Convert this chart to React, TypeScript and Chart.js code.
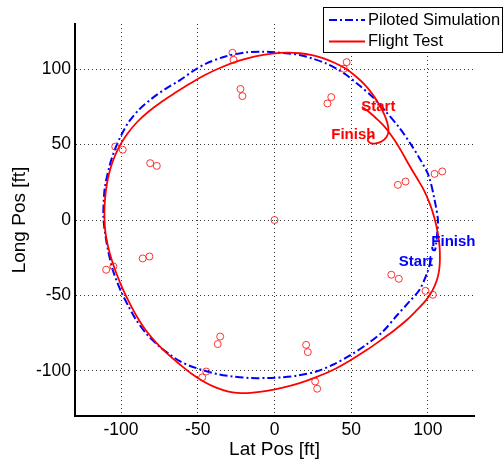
import React, { useEffect, useRef } from 'react';
import { Chart, registerables } from 'chart.js';

Chart.register(...registerables);

// Piloted Simulation path (Lat Pos, Long Pos) [ft]
const simX = [102, 99.7, 94.5, 88, 80, 70.6, 60, 48.9, 38, 27.2, 15, 5, -5, -16.3, -27.2, -36, -47, -55, -62, -68.5, -75, -83, -90.2, -95, -99.5, -103, -105.4, -108.5, -110.5, -111.5, -111.3, -110.5, -107.6, -104.3, -100, -95, -88, -80, -71, -62, -52, -44, -32, -18.4, -8, 1, 9, 16.3, 25, 33.7, 40, 46.7, 55, 64, 72, 81.5, 89, 95, 100.4, 104.3, 106.5, 106, 105.3, 104.5, 103, 102.8];
const simY = [-26, -34.4, -46.3, -54, -63, -74, -82.5, -90, -96, -100.5, -103.2, -104.3, -104.8, -104.8, -103.8, -102.5, -99.5, -96.8, -93.5, -89, -83.9, -76, -66.2, -57.5, -48.5, -40, -33, -20, -8, 2, 12, 22, 35.5, 46, 56, 65, 73.5, 80.5, 87, 92.5, 99.5, 104, 108.5, 111.2, 111.6, 111.2, 110.5, 109.5, 107, 103.8, 100.5, 96.3, 89.5, 81.5, 72.5, 61, 50, 40, 29.5, 13.4, 0, -9, -16, -20, -19.5, -17];

// Flight Test path (Lat Pos, Long Pos) [ft]
const flightX = [57, 62, 66.5, 70.5, 74, 78.5, 83, 88, 93, 97.5, 101.3, 104.3, 106.3, 107.5, 107.8, 107.4, 105.8, 102.8, 98.5, 92.5, 86, 78.5, 70.5, 60, 49, 38, 27.2, 16.3, 5.4, -5, -14, -22, -30, -38, -46, -54, -62, -69.5, -77, -84, -90, -95, -99.2, -103, -106.2, -108.6, -110.2, -110.8, -110.7, -109.8, -108, -105.2, -101.2, -96, -89.5, -82, -73.5, -64.5, -55, -45, -34.5, -23.5, -12.5, -1.5, 8, 16.5, 24.5, 32, 39, 46.5, 53.3, 59.5, 64.5, 68.5, 71.5, 73.5, 74.3, 73, 70, 66, 62.5, 60.8, 62, 64.5];
const flightY = [75, 71.3, 67.2, 63.2, 59, 52.5, 45, 36, 27.5, 19.5, 10.5, 1, -8, -17, -25, -32.5, -40, -47, -53.5, -60, -66.5, -72.8, -78.8, -86.3, -93.3, -99.5, -104.2, -108.2, -111.2, -113.3, -114.5, -114.8, -113.8, -111.2, -107.3, -102, -95.5, -89, -81.5, -73, -63.5, -54, -45, -35.5, -26, -17, -8, 1, 10, 20, 30, 39.5, 48.5, 57, 65, 72, 78.5, 84.5, 90.5, 96.3, 101.3, 105.5, 108.6, 110.4, 111, 110.6, 109.3, 107.2, 104.3, 100.3, 95, 89, 82.5, 76, 70, 64.5, 59, 55, 52.2, 50.8, 51, 53, 55, 55.8];

// Red circle markers
const markerX = [0, -27.4, -26.7, -22.2, -20.9, 47, 45.2, 37, 34.5, 104.3, 109.3, 80.4, 85.4, 76.1, 81, 98.4, 103.2, 20.6, 21.7, 26.5, 27.8, -44.5, -47.1, -35.4, -37, -103.8, -98.9, -81, -76.7, -85.9, -81.5, -109.7, -105];
const markerY = [0, 110.9, 106.2, 86.9, 82.2, 104.7, 100.3, 81.5, 77.3, 30.6, 32.2, 23.3, 25.5, -36.3, -39, -47, -49.6, -82.8, -87.6, -107.1, -111.9, -100.5, -104.4, -77.3, -82.3, 48.7, 46.6, 37.7, 35.9, -25.5, -24.2, -33, -30.8];

const tickValues = [-100, -50, 0, 50, 100];
const axisMin = -130;
const axisMax = 130;

const seriesLabels = ['Piloted Simulation', 'Flight Test'];
const xTitle = 'Lat Pos [ft]';
const yTitle = 'Long Pos [ft]';

const annotationTexts = ['Start', 'Finish', 'Start', 'Finish'];
const annotationX = [56.5, 37, 81, 102.2];
const annotationY = [75.1, 56.5, -27.5, -14.3];
const annotationSeries = [1, 1, 0, 0];

const FONT = '"Liberation Sans", Arial, Helvetica, sans-serif';
const BLUE = '#0000ff';
const RED = '#ff0000';
const BLUE_DASH = [8, 3, 2, 3];
const seriesColors = [BLUE, RED];
const seriesDashes = [BLUE_DASH, []];

const annotationPlugin = {
  id: 'annotationsText',
  afterDatasetsDraw(chart: any) {
    const ctx = chart.ctx;
    const xs = chart.scales.x;
    const ys = chart.scales.y;
    ctx.save();
    ctx.font = `bold 15px ${FONT}`;
    ctx.textAlign = 'left';
    ctx.textBaseline = 'middle';
    annotationTexts.forEach((t, i) => {
      ctx.fillStyle = seriesColors[annotationSeries[i]];
      ctx.fillText(t, xs.getPixelForValue(annotationX[i]), ys.getPixelForValue(annotationY[i]));
    });
    ctx.restore();
  },
};

const legendPlugin = {
  id: 'boxLegend',
  afterDraw(chart: any) {
    const ctx = chart.ctx;
    const right = chart.width - 1;
    const left = right - 179;
    const top = 7;
    const h = 45;
    ctx.save();
    ctx.fillStyle = '#ffffff';
    ctx.fillRect(left, top, right - left, h);
    ctx.strokeStyle = '#000000';
    ctx.lineWidth = 1;
    ctx.setLineDash([]);
    ctx.strokeRect(left + 0.5, top + 0.5, right - left, h);
    const rows = [top + 13, top + 34.5];
    seriesLabels.forEach((lab, i) => {
      const y = rows[i];
      ctx.beginPath();
      ctx.strokeStyle = seriesColors[i];
      ctx.lineWidth = 2;
      ctx.setLineDash(seriesDashes[i]);
      ctx.moveTo(left + 6, y);
      ctx.lineTo(left + 42, y);
      ctx.stroke();
      ctx.setLineDash([]);
      ctx.fillStyle = '#000000';
      ctx.font = `16.5px ${FONT}`;
      ctx.textAlign = 'left';
      ctx.textBaseline = 'middle';
      ctx.fillText(lab, left + 45, y);
    });
    ctx.restore();
  },
};

export default function App() {
  const canvasRef = useRef<HTMLCanvasElement | null>(null);

  useEffect(() => {
    if (!canvasRef.current) return;
    const axisCommon = {
      type: 'linear' as const,
      min: axisMin,
      max: axisMax,
      afterBuildTicks: (scale: any) => {
        scale.ticks = tickValues.map((v) => ({ value: v }));
      },
      grid: { color: 'rgba(0,0,0,0.8)', lineWidth: 1, drawTicks: false },
      border: { display: true, color: '#000000', width: 2, dash: [1, 3] },
      ticks: { color: '#000000', font: { family: FONT, size: 17.5 }, padding: 4 },
    };
    const chart = new Chart(canvasRef.current, {
      type: 'scatter',
      data: {
        datasets: [
          {
            label: seriesLabels[1],
            data: flightX.map((x, i) => ({ x, y: flightY[i] })),
            showLine: true,
            borderColor: RED,
            borderWidth: 1.8,
            pointRadius: 0,
            tension: 0.35,
            fill: false,
            order: 1,
          } as any,
          {
            label: seriesLabels[0],
            data: simX.map((x, i) => ({ x, y: simY[i] })),
            showLine: true,
            borderColor: BLUE,
            borderWidth: 2,
            borderDash: BLUE_DASH,
            pointRadius: 0,
            tension: 0.3,
            fill: false,
            order: 2,
          } as any,
          {
            label: 'markers',
            data: markerX.map((x, i) => ({ x, y: markerY[i] })),
            showLine: false,
            pointStyle: 'circle',
            pointRadius: 3.5,
            borderWidth: 1,
            borderColor: 'rgba(255,30,30,0.9)',
            backgroundColor: 'rgba(0,0,0,0)',
            order: 0,
          } as any,
        ],
      },
      options: {
        responsive: false,
        animation: false,
        devicePixelRatio: 1,
        layout: { padding: { left: 0, right: 29, top: 24, bottom: 0 } },
        plugins: { legend: { display: false }, tooltip: { enabled: false } },
        scales: {
          x: {
            ...axisCommon,
            position: 'bottom',
            afterFit: (s: any) => {
              s.height = 43;
            },
            title: {
              display: true,
              text: xTitle,
              color: '#000000',
              font: { family: FONT, size: 19, lineHeight: 1 },
              padding: { top: 0, bottom: 0 },
            },
          },
          y: {
            ...axisCommon,
            position: 'left',
            afterFit: (s: any) => {
              s.width = 75;
            },
            title: {
              display: true,
              text: yTitle,
              color: '#000000',
              font: { family: FONT, size: 19, lineHeight: 1 },
              padding: { top: 10, bottom: 0 },
            },
          },
        } as any,
      },
      plugins: [annotationPlugin, legendPlugin],
    });
    return () => chart.destroy();
  }, []);

  return (
    <div style={{ position: 'absolute', left: 0, top: 0, width: 503, height: 459, background: '#fff' }}>
      <canvas ref={canvasRef} width={503} height={459} style={{ display: 'block' }} />
    </div>
  );
}
